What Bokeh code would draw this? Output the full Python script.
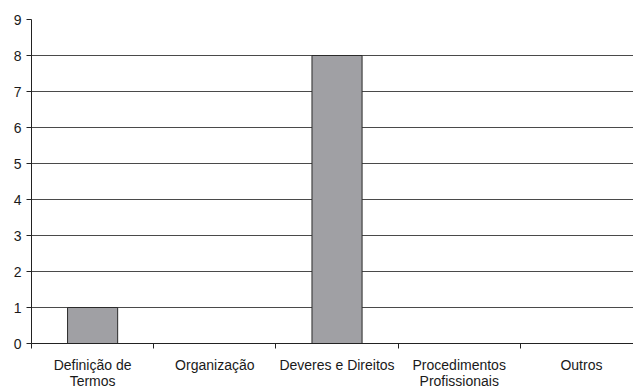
from bokeh.plotting import figure
from bokeh.models import FixedTicker, Range1d, ColumnDataSource
from bokeh.embed import file_html
from bokeh.resources import INLINE

categories = ["Definição de\nTermos", "Organização", "Deveres e Direitos",
              "Procedimentos\nProfissionais", "Outros"]
values = [1, 0, 8, 0, 0]
y_ticks = [0, 1, 2, 3, 4, 5, 6, 7, 8, 9]

centers = [i + 0.5 for i in range(len(categories))]
bounds = list(range(len(categories) + 1))

src = ColumnDataSource(dict(x=centers, top=values))

p = figure(frame_width=602, frame_height=324, output_backend="svg", toolbar_location=None,
           x_range=Range1d(0, 4.926), y_range=Range1d(0, 9),
           min_border_left=31, min_border_right=0, min_border_top=19,
           min_border_bottom=0)
p.outline_line_color = None
p.background_fill_color = "white"
p.border_fill_color = "white"

p.vbar(x="x", top="top", bottom=0, width=0.41, source=src,
       fill_color="#a0a0a4", line_color="#2a2a2a", line_width=1)

# y axis
p.yaxis.ticker = FixedTicker(ticks=y_ticks)
p.yaxis.major_tick_out = 5
p.yaxis.major_tick_in = 0
p.yaxis.minor_tick_line_color = None
p.yaxis.axis_line_color = "#222222"
p.yaxis.major_tick_line_color = "#222222"
p.yaxis.major_label_text_font = "Liberation Sans"
p.yaxis.major_label_text_font_size = "14px"
p.yaxis.major_label_text_color = "#1a1a1a"
p.yaxis.major_label_standoff = 5

# x axis: labels at centers, ticks at boundaries (as minor ticks)
p.xaxis.ticker = FixedTicker(ticks=centers, minor_ticks=bounds)
p.xaxis.major_label_overrides = {c: lab for c, lab in zip(centers, categories)}
p.xaxis.major_tick_line_color = None
p.xaxis.major_tick_out = 5
p.xaxis.major_tick_in = 0
p.xaxis.minor_tick_out = 5
p.xaxis.minor_tick_in = 0
p.xaxis.minor_tick_line_color = "#222222"
p.xaxis.axis_line_color = "#222222"
p.xaxis.major_label_text_font = "Liberation Sans"
p.xaxis.major_label_text_font_size = "14px"
p.xaxis.major_label_text_color = "#1a1a1a"
p.xaxis.major_label_text_line_height = 1.0
p.xaxis.major_label_standoff = 8

p.xgrid.grid_line_color = None
p.ygrid.ticker = FixedTicker(ticks=y_ticks)
p.ygrid.grid_line_color = "#4a4a4a"
p.ygrid.grid_line_width = 1

open("out.html", "w").write(file_html(p, INLINE))
